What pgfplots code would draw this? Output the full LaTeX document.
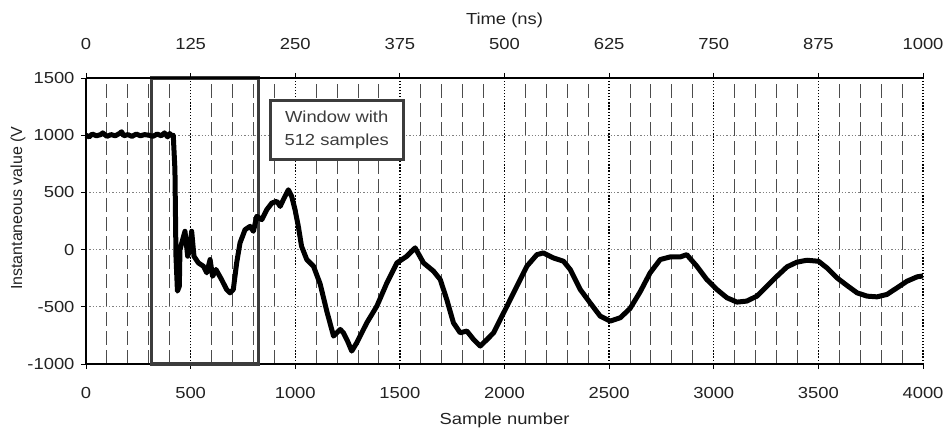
\documentclass[border=0pt]{standalone}
\usepackage{pgfplots}
\pgfplotsset{compat=1.18}
\usepackage{fontspec}
\setmainfont{Liberation Sans}[FakeStretch=1.15]
\newfontfamily\plainsans{Liberation Sans}
\definecolor{boxgray}{HTML}{3C3C3C}
\definecolor{txtgray}{HTML}{222222}
\begin{document}
\begin{tikzpicture}[font=\fontsize{16bp}{19bp}\selectfont]
\path[use as bounding box] (0,0) rectangle (946bp,428bp);
\begin{axis}[
  at={(86bp,64bp)}, anchor=south west,
  scale only axis, width=837bp, height=286bp,
  xmin=0, xmax=4000, ymin=-1000, ymax=1500,
  axis x line*=bottom, axis y line*=left,
  xtick={0,500,...,4000}, ytick={-1000,-500,...,1500},
  minor x tick num=4,
  tick align=outside, major tick length=5bp, minor tick length=0pt,
  xmajorgrids, ymajorgrids, xminorgrids,
  major x grid style={black, line width=1.3bp, dash pattern=on 1.3bp off 1.8bp},
  major y grid style={gray, line width=0.8bp, dash pattern=on 1.3bp off 2bp},
  minor x grid style={black!70, line width=1bp, dash pattern=on 14bp off 5bp},
  every tick/.style={black, line width=0.8bp},
  axis line style={line width=1.3bp},
  /pgf/number format/assume math mode=true,
  /pgf/number format/1000 sep={},
  scaled ticks=false,
  xticklabel={\pgfmathprintnumber[assume math mode=true,1000 sep={}]{\tick}},
  yticklabel={\pgfmathprintnumber[assume math mode=true,1000 sep={}]{\tick}},
  ticklabel style={text=txtgray, font=\fontsize{16bp}{19bp}\selectfont},
  xticklabel style={yshift=-15bp},
  yticklabel style={xshift=-3bp},
  xlabel={Sample number},
  xlabel style={at={(axis description cs:0.5,0)}, anchor=center, yshift=-56bp, text=txtgray},
  ylabel={\plainsans Instantaneous value (V},
  ylabel style={at={(axis description cs:-0.0812,0.545)}, anchor=center, text=txtgray},
  clip=false,
]
\draw[boxgray, line width=3.5bp] (axis cs:313,-1000) rectangle (axis cs:825,1500);
\addplot[black, line width=5bp, line join=round] coordinates {
(0,1000)(15,985)(30,1010)(50,995)(70,1005)(80,1020)(100,990)(120,1005)(140,995)(160,1015)(170,1030)(180,995)(200,1005)(220,990)(240,1010)(260,995)(280,1005)(300,1000)(320,990)(340,1010)(360,995)(375,1020)(390,985)(400,1015)(410,995)(417,1000)
(425,700)(430,-60)(437,-363)(446,-320)(449,0)(462,87)(473,160)(486,-58)(497,29)(505,160)(516,-58)(537,-116)(561,-145)(577,-203)(593,-87)(605,-233)(621,-174)(648,-262)(672,-349)(688,-378)(704,-349)(720,-116)(736,58)(760,174)(784,203)(800,160)(816,291)(840,262)(864,349)(888,407)(912,422)(928,378)(943,436)(967,523)(983,465)(999,349)(1015,200)(1030,30)(1055,-87)
(1087,-145)(1119,-300)(1151,-540)(1183,-756)(1215,-698)(1230,-727)(1250,-800)(1270,-887)(1294,-814)(1342,-640)(1390,-494)(1438,-291)(1486,-116)(1533,-58)(1573,15)(1613,-116)(1661,-189)(1693,-262)(1724,-436)(1756,-640)(1788,-727)(1820,-712)(1852,-785)(1884,-843)(1917,-785)(1948,-727)(1980,-610)(2012,-494)(2059,-320)(2107,-145)(2155,-44)(2186,-29)(2234,-73)(2282,-102)(2314,-174)(2362,-349)(2409,-465)(2457,-581)(2505,-625)(2553,-596)(2600,-515)(2648,-370)(2696,-203)(2744,-87)(2792,-64)(2840,-64)(2871,-44)(2919,-145)(2967,-262)(3015,-349)(3063,-421)(3111,-459)(3158,-450)(3206,-407)(3254,-320)(3302,-233)(3350,-151)(3397,-110)(3445,-93)(3501,-102)(3541,-160)(3589,-247)(3637,-314)(3685,-378)(3733,-407)(3780,-413)(3828,-392)(3876,-334)(3924,-276)(3972,-238)(4000,-230)
};
\node[draw=boxgray, line width=3bp, fill=white, text=boxgray, align=center,
  minimum width=133bp, minimum height=59bp, inner sep=2bp,
  font=\fontsize{16bp}{23bp}\selectfont] at (axis cs:1198,1049) {Window with\\512 samples};
\end{axis}
\begin{axis}[
  at={(86bp,64bp)}, anchor=south west,
  scale only axis, width=837bp, height=286bp,
  xmin=0, xmax=1000, ymin=-1000, ymax=1500,
  axis x line*=top, axis y line=none,
  xtick={0,125,...,1000},
  tick align=outside, major tick length=5bp,
  every tick/.style={black, line width=0.8bp},
  axis line style={line width=1.3bp},
  scaled ticks=false,
  xticklabel={\pgfmathprintnumber[assume math mode=true,1000 sep={}]{\tick}},
  ticklabel style={text=txtgray, font=\fontsize{16bp}{19bp}\selectfont},
  xticklabel style={yshift=20bp},
  xlabel={Time (ns)},
  xlabel style={at={(axis description cs:0.5,1)}, anchor=center, yshift=58bp, text=txtgray},
]
\end{axis}
\end{tikzpicture}
\end{document}
